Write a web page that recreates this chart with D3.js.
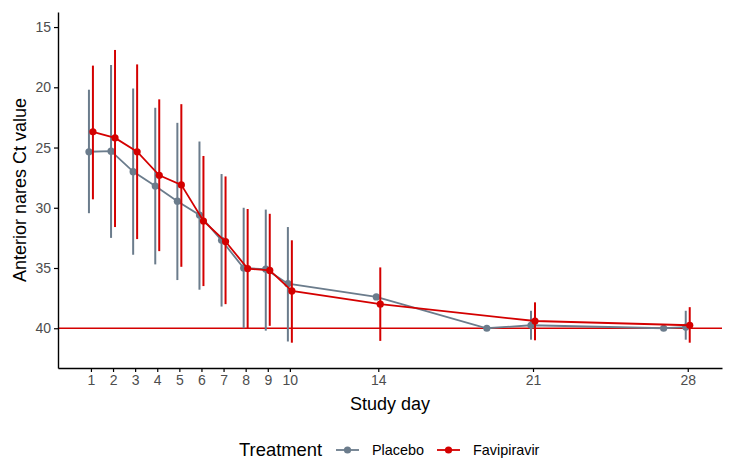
<!DOCTYPE html>
<html>
<head>
<meta charset="utf-8">
<script src="https://cdn.jsdelivr.net/npm/d3@7"></script>
<style>
  body { margin: 0; background: #fff; }
  svg { font-family: "Liberation Sans", Arial, sans-serif; }
</style>
</head>
<body>
<svg id="chart" width="733" height="474"></svg>
<script>
// study days shown on the x axis
const xTicks = [1, 2, 3, 4, 5, 6, 7, 8, 9, 10, 14, 21, 28];
const yTicks = [15, 20, 25, 30, 35, 40];

// Placebo: mean Ct and interval (null = no bar drawn)
const placeboDays = [1, 2, 3, 4, 5, 6, 7, 8, 9, 10, 14, 19, 21, 27, 28];
const placeboMean = [25.35, 25.3, 27.0, 28.2, 29.45, 30.6, 32.7, 35.0, 35.1, 36.3, 37.4, 40.0, 39.75, 40.0, 39.9];
const placeboLow  = [20.2, 18.15, 20.1, 21.7, 22.95, 24.5, 27.2, 30.0, 30.15, 31.6, null, null, 38.55, null, 38.55];
const placeboHigh = [30.45, 32.5, 33.9, 34.7, 36.0, 36.8, 38.2, 40.0, 40.2, 41.1, null, null, 40.95, null, 40.95];

// Favipiravir
const faviDays = [1, 2, 3, 4, 5, 6, 7, 8, 9, 10, 14, 21, 28];
const faviMean = [23.7, 24.2, 25.35, 27.3, 28.1, 31.1, 32.8, 35.05, 35.2, 36.9, 38.0, 39.4, 39.75];
const faviLow  = [18.2, 16.9, 18.1, 21.0, 21.4, 25.7, 27.4, 30.1, 30.5, 32.7, 34.95, 37.85, 38.25];
const faviHigh = [29.3, 31.6, 32.6, 33.6, 34.9, 36.5, 38.0, 40.0, 39.8, 41.2, 41.05, 41.0, 41.2];

const limitOfDetection = 40;

const groups = [
  { name: "Placebo", color: "#6b7c8c", dodge: -0.09, days: placeboDays, mean: placeboMean, low: placeboLow, high: placeboHigh },
  { name: "Favipiravir", color: "#d40000", dodge: 0.09, days: faviDays, mean: faviMean, low: faviLow, high: faviHigh }
];

const svg = d3.select("#chart");
const margin = { top: 12, right: 11, bottom: 106, left: 58 };
const width = 733 - margin.left - margin.right;
const height = 474 - margin.top - margin.bottom;

const x = d3.scaleLinear().domain([-0.49, 29.55]).range([0, width]);
const y = d3.scaleLinear().domain([13.75, 43.3]).range([0, height]);

const g = svg.append("g").attr("transform", `translate(${margin.left},${margin.top})`);

// reference line at Ct 40
g.append("line")
  .attr("x1", 0).attr("x2", width)
  .attr("y1", y(limitOfDetection)).attr("y2", y(limitOfDetection))
  .attr("stroke", "#d40000").attr("stroke-width", 1.3);

groups.forEach(grp => {
  const rows = grp.days.map((d, i) => ({ day: d, mean: grp.mean[i], low: grp.low[i], high: grp.high[i] }));
  const gg = g.append("g");

  gg.selectAll(".bar")
    .data(rows.filter(r => r.low != null))
    .enter().append("line")
    .attr("x1", r => x(r.day + grp.dodge)).attr("x2", r => x(r.day + grp.dodge))
    .attr("y1", r => y(r.low)).attr("y2", r => y(r.high))
    .attr("stroke", grp.color).attr("stroke-width", 2);

  const line = d3.line().x(r => x(r.day + grp.dodge)).y(r => y(r.mean));
  gg.append("path").datum(rows)
    .attr("fill", "none").attr("stroke", grp.color).attr("stroke-width", 1.8)
    .attr("d", line);

  gg.selectAll(".dot")
    .data(rows)
    .enter().append("circle")
    .attr("cx", r => x(r.day + grp.dodge)).attr("cy", r => y(r.mean))
    .attr("r", 3.6).attr("fill", grp.color);
});

// axes
const xAxis = g.append("g").attr("transform", `translate(0,${height})`)
  .call(d3.axisBottom(x).tickValues(xTicks).tickSize(4).tickPadding(3).tickSizeOuter(0));
const yAxis = g.append("g")
  .call(d3.axisLeft(y).tickValues(yTicks).tickSize(4).tickPadding(3).tickSizeOuter(0));

[xAxis, yAxis].forEach(a => {
  a.select(".domain").attr("stroke", "#000").attr("stroke-width", 1.4);
  a.selectAll(".tick line").attr("stroke", "#000").attr("stroke-width", 1.2);
  a.selectAll(".tick text").attr("fill", "#4d4d4d").style("font-size", "14px");
});

// axis titles
svg.append("text")
  .attr("x", margin.left + width / 2).attr("y", 410)
  .attr("text-anchor", "middle").style("font-size", "18px")
  .text("Study day");

svg.append("text")
  .attr("transform", `translate(26,${margin.top + height / 2}) rotate(-90)`)
  .attr("text-anchor", "middle").style("font-size", "18px")
  .text("Anterior nares Ct value");

// legend
const legend = svg.append("g").attr("transform", "translate(0,456)");
legend.append("text").attr("x", 239).attr("y", 0).style("font-size", "18.4px").text("Treatment");
const keyX = [336, 437];
const labelX = [372, 473];
groups.forEach((grp, i) => {
  legend.append("line")
    .attr("x1", keyX[i]).attr("x2", keyX[i] + 23).attr("y1", -6).attr("y2", -6)
    .attr("stroke", grp.color).attr("stroke-width", 1.8);
  legend.append("circle")
    .attr("cx", keyX[i] + 11.5).attr("cy", -6).attr("r", 3.6).attr("fill", grp.color);
  legend.append("text").attr("x", labelX[i]).attr("y", -1)
    .style("font-size", "14.4px").attr("fill", "#000").text(grp.name);
});
</script>
</body>
</html>
